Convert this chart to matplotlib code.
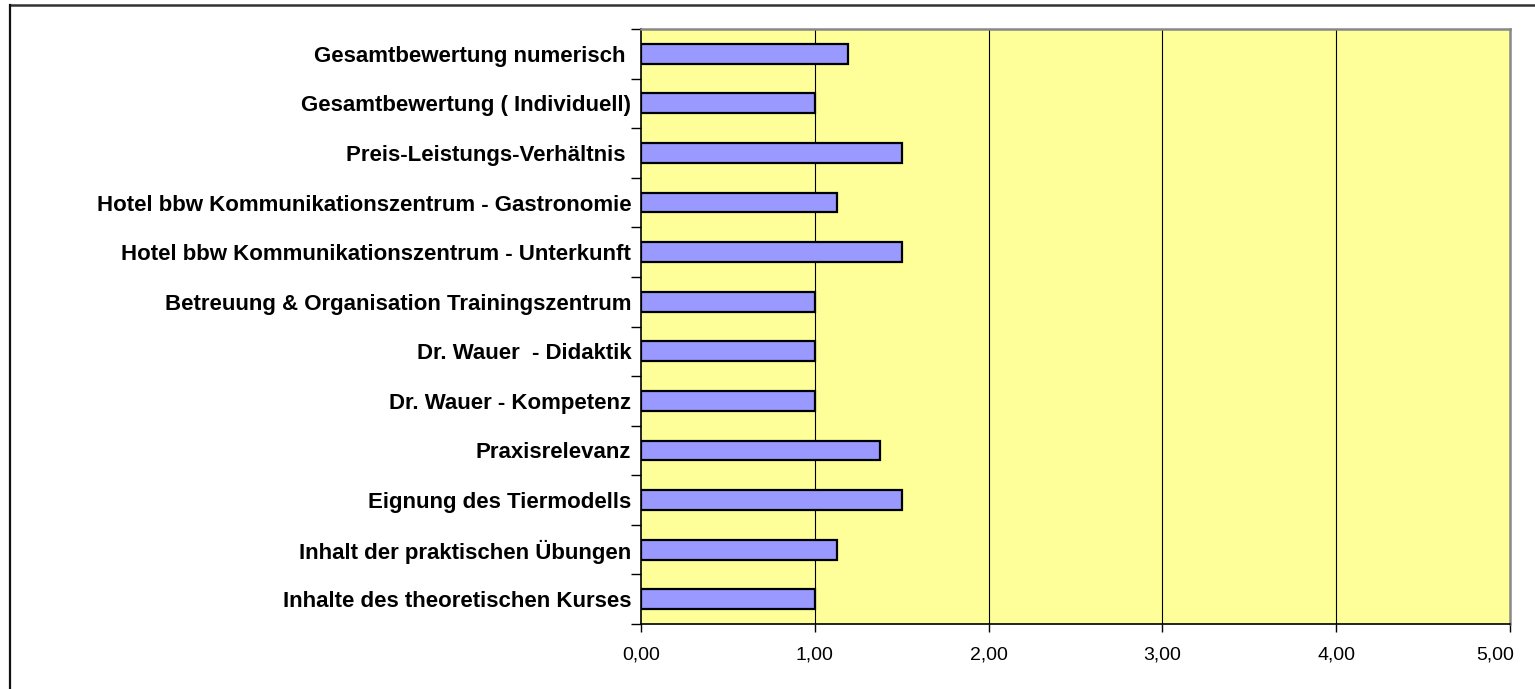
import matplotlib
matplotlib.use("Agg")
import matplotlib.pyplot as plt
from matplotlib.lines import Line2D
from matplotlib.ticker import FixedLocator, FuncFormatter
import matplotlib.transforms as mtransforms

categories = [
    "Inhalte des theoretischen Kurses",
    "Inhalt der praktischen Übungen",
    "Eignung des Tiermodells",
    "Praxisrelevanz",
    "Dr. Wauer - Kompetenz",
    "Dr. Wauer  - Didaktik",
    "Betreuung & Organisation Trainingszentrum",
    "Hotel bbw Kommunikationszentrum - Unterkunft",
    "Hotel bbw Kommunikationszentrum - Gastronomie",
    "Preis-Leistungs-Verhältnis ",
    "Gesamtbewertung ( Individuell)",
    "Gesamtbewertung numerisch ",
]
values = [1.0, 1.125, 1.5, 1.375, 1.0, 1.0, 1.0, 1.5, 1.125, 1.5, 1.0, 1.19]
x_ticks = [0, 1, 2, 3, 4, 5]

plt.rcParams['font.family'] = ['Liberation Sans', 'DejaVu Sans']

W, H = 1535, 689
fig = plt.figure(figsize=(W / 100, H / 100), dpi=100)
fig.patch.set_facecolor('white')

left, right, top, bottom = 641, 1510, 29, 624
ax = fig.add_axes([left / W, 1 - bottom / H, (right - left) / W, (bottom - top) / H])
ax.set_facecolor('#FFFF99')

pos = list(range(len(categories)))
ax.barh(pos, values, height=0.4, color='#9999FF', edgecolor='black', linewidth=1.6, zorder=3)

ax.set_xlim(0, 5)
ax.set_ylim(-0.5, len(categories) - 0.5)
ax.set_xticks(x_ticks)
ax.xaxis.set_major_formatter(FuncFormatter(lambda v, p: f"{v:.2f}".replace('.', ',')))
ax.tick_params(axis='x', direction='out', length=6, width=1, color='black', labelsize=14, pad=10)

ax.set_yticks(pos)
ax.set_yticklabels(categories, fontweight='bold', fontsize=16)
ax.yaxis.set_minor_locator(FixedLocator([p - 0.5 for p in pos] + [len(categories) - 0.5]))
ax.tick_params(axis='y', which='major', length=0, pad=7)
ax.tick_params(axis='y', which='minor', direction='out', length=7, width=1, color='black')

for v in x_ticks[1:-1]:
    ax.axvline(v, color='black', linewidth=0.8, zorder=1)

ax.spines['left'].set_color('black')
ax.spines['bottom'].set_color('black')
ax.spines['left'].set_linewidth(1.2)
ax.spines['bottom'].set_linewidth(1.2)
ax.spines['top'].set_color('#888888')
ax.spines['right'].set_color('#888888')
ax.spines['top'].set_linewidth(1.8)
ax.spines['right'].set_linewidth(1.8)

# last x label is pulled inside the chart area, as in the reference
fig.canvas.draw()
last = ax.get_xticklabels()[-1]
last.set_transform(last.get_transform() + mtransforms.ScaledTranslation(-15 / 100, 0, fig.dpi_scale_trans))

# outer chart frame (top and left edges visible)
fig.add_artist(Line2D([10 / W, 1.01], [1 - 5 / H, 1 - 5 / H], transform=fig.transFigure,
                      color='#333333', linewidth=1.8))
fig.add_artist(Line2D([10 / W, 10 / W], [-0.01, 1 - 5 / H], transform=fig.transFigure,
                      color='#111111', linewidth=1.6))

fig.savefig('out.png', dpi=100)
